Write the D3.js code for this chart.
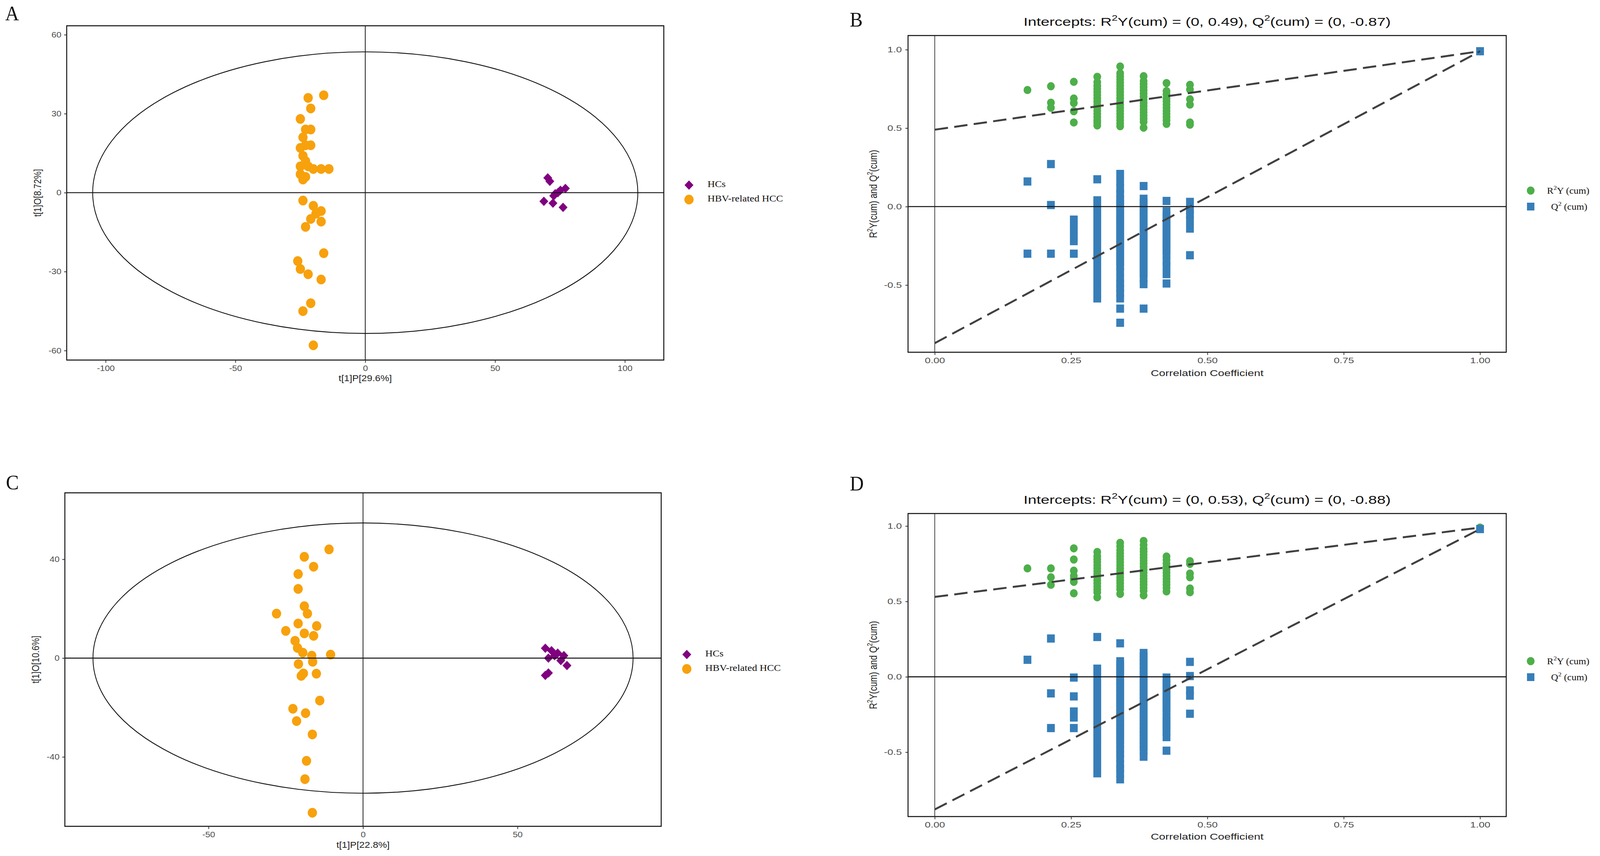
<!DOCTYPE html>
<html>
<head>
<meta charset="utf-8">
<script src="https://cdn.jsdelivr.net/npm/d3@7"></script>
<style>
  html, body { margin: 0; width: 100%; height: 100%; overflow: hidden; background: #fff; }
  svg { display: block; width: 100vw; height: 100vh; }
</style>
</head>
<body>
<svg id="fig" viewBox="0 0 4317 2192" preserveAspectRatio="none"></svg>
<script>
// ---- score plots (A, C) ----
const groups = ["HCs", "HBV-related HCC"];

const hcA = [[70.3, 5.6], [71.1, 4.3], [68.8, -3.3], [72.3, -4.0], [76.2, -5.6], [73.2, -0.4],
  [75.2, 0.9], [77.1, 1.6], [72.6, -1.2], [74.2, 0]];
const hccA = [[-22, 36], [-16, 37], [-21, 32], [-25, 28], [-23, 24], [-21, 24], [-24, 21], [-23, 18],
  [-21, 18], [-25, 17], [-24, 14], [-23, 12], [-25, 10], [-22, 10], [-20, 9], [-17, 9], [-14, 9],
  [-25, 7], [-23, 6], [-24, 5], [-24, -3], [-20, -5], [-17, -7], [-19, -8], [-21, -10], [-17, -11],
  [-23, -13], [-16, -23], [-26, -26], [-25, -29], [-22, -31], [-17, -33], [-21, -42], [-24, -45], [-20, -58]];

const hcC = [[59, 4], [61, 3], [63, 2], [65, 1], [60, 0], [64, -1], [66, -3], [60, -6], [59, -7], [62, 1]];
const hccC = [[-11, 44], [-19, 41], [-16, 37], [-21, 34], [-21, 28], [-19, 21], [-18, 18], [-28, 18],
  [-21, 14], [-15, 13], [-25, 11], [-19, 10], [-16, 9], [-22, 7], [-21.2, 4.1], [-19.5, 2.2], [-16.6, 1.0],
  [-10.5, 1.4], [-16.3, -1.5], [-20.9, -2.4], [-19.3, -6.2], [-20.0, -7.2], [-15.1, -6.3], [-14.0, -17.2],
  [-22.7, -20.5], [-18.6, -22.3], [-21.5, -25.5], [-16.4, -30.9], [-18.3, -41.6], [-18.8, -49], [-16.4, -62.6]];

const ellipseA = [105, 53.5];
const ellipseC = [87.4, 54.7];

// ---- permutation plots (B, D) ----
const corrSteps = [0.17, 0.213, 0.255, 0.298, 0.34, 0.383, 0.425, 0.468];

const r2B = [
  [0.743],
  [0.767, 0.662, 0.63],
  [0.795, 0.689, 0.66, 0.608, 0.536],
  [0.827, 0.793, 0.77, 0.75, 0.73, 0.71, 0.69, 0.67, 0.65, 0.63, 0.61, 0.59, 0.57, 0.55, 0.535, 0.517],
  [0.893, 0.85, 0.83, 0.81, 0.79, 0.77, 0.75, 0.73, 0.71, 0.69, 0.67, 0.65, 0.63, 0.61, 0.59, 0.57, 0.55, 0.53, 0.512],
  [0.831, 0.80, 0.78, 0.76, 0.74, 0.72, 0.70, 0.68, 0.66, 0.64, 0.62, 0.60, 0.58, 0.56, 0.54, 0.503],
  [0.787, 0.736, 0.715, 0.69, 0.67, 0.65, 0.63, 0.61, 0.59, 0.57, 0.55, 0.527],
  [0.776, 0.746, 0.684, 0.65, 0.536, 0.522],
];
const q2B = [
  [0.16, -0.30],
  [0.271, 0.01, -0.30],
  [-0.083, -0.12, -0.155, -0.19, -0.22, -0.30],
  [0.174, 0.04, 0.015, -0.01, -0.035, -0.06, -0.085, -0.11, -0.135, -0.16, -0.185, -0.21, -0.235, -0.26,
    -0.285, -0.31, -0.335, -0.36, -0.385, -0.41, -0.435, -0.455, -0.49, -0.515, -0.54, -0.565, -0.585],
  [0.208, 0.16, 0.115, 0.08, 0.045, 0.02, -0.005, -0.03, -0.055, -0.08, -0.105, -0.13, -0.155, -0.18, -0.205,
    -0.23, -0.255, -0.28, -0.305, -0.33, -0.355, -0.38, -0.415, -0.46, -0.49, -0.52, -0.55, -0.585, -0.65, -0.74],
  [0.131, 0.05, 0.025, 0.0, -0.025, -0.05, -0.075, -0.1, -0.125, -0.15, -0.175, -0.2, -0.225, -0.25, -0.275,
    -0.3, -0.325, -0.35, -0.375, -0.4, -0.425, -0.455, -0.494, -0.65],
  [0.036, -0.03, -0.055, -0.08, -0.105, -0.13, -0.155, -0.18, -0.205, -0.23, -0.255, -0.28, -0.305, -0.346,
    -0.38, -0.43, -0.49],
  [0.03, -0.02, -0.05, -0.09, -0.14, -0.31],
];
const originalB = [1, 0.99, 0.99];     // [x, R2Y, Q2]
const interceptsB = [0.49, -0.87];

const r2D = [
  [0.719],
  [0.719, 0.66, 0.61],
  [0.852, 0.778, 0.704, 0.67, 0.65, 0.63, 0.554],
  [0.828, 0.80, 0.78, 0.76, 0.74, 0.72, 0.70, 0.68, 0.66, 0.64, 0.62, 0.60, 0.58, 0.56, 0.527],
  [0.889, 0.865, 0.84, 0.82, 0.80, 0.78, 0.76, 0.74, 0.72, 0.70, 0.68, 0.66, 0.64, 0.62, 0.60, 0.58, 0.55],
  [0.901, 0.875, 0.85, 0.83, 0.81, 0.79, 0.77, 0.75, 0.73, 0.71, 0.69, 0.67, 0.65, 0.63, 0.61, 0.59, 0.57, 0.54],
  [0.798, 0.775, 0.75, 0.73, 0.71, 0.69, 0.67, 0.65, 0.63, 0.61, 0.59, 0.566],
  [0.767, 0.749, 0.685, 0.66, 0.586, 0.561],
];
const q2D = [
  [0.113],
  [0.254, -0.11, -0.34],
  [-0.005, -0.13, -0.23, -0.27, -0.34],
  [0.264, 0.054, 0.03, 0.005, -0.02, -0.045, -0.07, -0.095, -0.12, -0.145, -0.17, -0.195, -0.22, -0.245,
    -0.27, -0.295, -0.32, -0.345, -0.37, -0.395, -0.42, -0.445, -0.48, -0.515, -0.55, -0.58, -0.61, -0.64],
  [0.222, 0.103, 0.08, 0.055, 0.03, 0.005, -0.02, -0.045, -0.07, -0.095, -0.12, -0.145, -0.17, -0.195, -0.22,
    -0.245, -0.27, -0.295, -0.32, -0.345, -0.37, -0.395, -0.42, -0.45, -0.48, -0.51, -0.54, -0.58, -0.61, -0.64, -0.68],
  [0.158, 0.135, 0.11, 0.085, 0.06, 0.035, 0.01, -0.015, -0.04, -0.065, -0.09, -0.115, -0.14, -0.165, -0.19,
    -0.215, -0.24, -0.265, -0.29, -0.315, -0.34, -0.365, -0.39, -0.415, -0.44, -0.465, -0.49, -0.53],
  [-0.005, -0.03, -0.055, -0.08, -0.105, -0.13, -0.155, -0.18, -0.205, -0.23, -0.265, -0.29, -0.315, -0.34,
    -0.365, -0.4, -0.49],
  [0.099, 0.005, -0.09, -0.125, -0.245],
];
const originalD = [1, 0.99, 0.98];
const interceptsD = [0.53, -0.88];

const corrTicks = [0, 0.25, 0.5, 0.75, 1];
const permYTicks = [-0.5, 0, 0.5, 1];

const colors = { hc: "#800080", hcc: "#F7A10C", r2: "#4DAF4A", q2: "#377EB8" };
const sans = "Liberation Sans, Arial, sans-serif";
const serif = "Liberation Serif, Times New Roman, serif";

const svg = d3.select("#fig");

// text is a bit wider than usual in the source figure, so stretch it horizontally
function addText(g, x, y, o) {
  const tf = o.rotate
    ? `translate(${x},${y}) rotate(-90) scale(1,${o.sx})`
    : `translate(${x},${y}) scale(${o.sx},1)`;
  return g.append("text").attr("transform", tf)
    .attr("text-anchor", o.anchor || "start")
    .attr("dominant-baseline", o.baseline || "auto")
    .attr("font-family", o.font).attr("font-size", o.size).attr("fill", o.fill || "#111");
}

function richText(sel, parts, size) {
  let up = false;
  parts.forEach(([t, sup]) => {
    const ts = sel.append("tspan").text(t);
    if (sup && !up) { ts.attr("dy", -size * 0.42).attr("font-size", size * 0.68); up = true; }
    else if (!sup && up) { ts.attr("dy", size * 0.42); up = false; }
  });
}

function styleAxis(g, sx, size) {
  g.select(".domain").remove();
  g.selectAll(".tick line").attr("stroke", "#333").attr("stroke-width", 2);
  g.selectAll(".tick text").attr("fill", "#4d4d4d").attr("font-family", sans).attr("font-size", size)
    .attr("transform", `scale(${sx},1)`);
}

function diamond(g, cx, cy, s) {
  g.append("rect").attr("x", -s / 2).attr("y", -s / 2).attr("width", s).attr("height", s)
    .attr("transform", `translate(${cx},${cy}) rotate(45)`);
}

function scorePanel(o) {
  const g = svg.append("g");
  const sx = 1.2;
  const x = d3.scaleLinear().domain(o.xDomain).range([o.left, o.right]);
  const y = d3.scaleLinear().domain(o.yDomain).range([o.bottom, o.top]);

  g.append("ellipse")
    .attr("cx", x(0)).attr("cy", y(0))
    .attr("rx", x(o.ellipse[0]) - x(0)).attr("ry", y(0) - y(o.ellipse[1]))
    .attr("fill", "none").attr("stroke", "#111").attr("stroke-width", 2.2);

  g.append("g").attr("fill", colors.hcc).selectAll("circle").data(o.hcc).join("circle")
    .attr("cx", (d) => x(d[0])).attr("cy", (d) => y(d[1])).attr("r", 12.5);

  const hcG = g.append("g").attr("fill", colors.hc);
  o.hc.forEach((d) => diamond(hcG, x(d[0]), y(d[1]), 17));

  g.append("line").attr("x1", o.left).attr("x2", o.right).attr("y1", y(0)).attr("y2", y(0))
    .attr("stroke", "#111").attr("stroke-width", 2.4);
  g.append("line").attr("x1", x(0)).attr("x2", x(0)).attr("y1", o.top).attr("y2", o.bottom)
    .attr("stroke", "#111").attr("stroke-width", 2);

  g.append("rect").attr("x", o.left).attr("y", o.top)
    .attr("width", o.right - o.left).attr("height", o.bottom - o.top)
    .attr("fill", "none").attr("stroke", "#111").attr("stroke-width", 2.6);

  g.append("g").attr("transform", `translate(0,${o.bottom})`)
    .call(d3.axisBottom(x).tickValues(o.xTicks).tickSize(7).tickPadding(7).tickFormat((d) => String(d)))
    .call(styleAxis, sx, 20);
  g.append("g").attr("transform", `translate(${o.left},0)`)
    .call(d3.axisLeft(y).tickValues(o.yTicks).tickSize(7).tickPadding(5).tickFormat((d) => String(d)))
    .call(styleAxis, sx, 20);

  addText(g, (o.left + o.right) / 2, o.xTitleY,
    { sx, anchor: "middle", baseline: "middle", font: sans, size: 22, fill: "#222" }).text(o.xTitle);
  addText(g, o.yTitleX, (o.top + o.bottom) / 2,
    { sx, rotate: true, anchor: "middle", baseline: "middle", font: sans, size: 22, fill: "#222" }).text(o.yTitle);

  // legend
  const [lx, ly, gap] = o.legend;
  diamond(g.append("g").attr("fill", colors.hc), lx, ly, 17);
  g.append("circle").attr("cx", lx).attr("cy", ly + gap).attr("r", 12.5).attr("fill", colors.hcc);
  groups.forEach((name, i) => {
    addText(g, lx + 50, ly + i * gap, { sx, baseline: "middle", font: serif, size: 23 }).text(name);
  });
}

function permPanel(o) {
  const g = svg.append("g");
  const sx = 1.4;
  const x = d3.scaleLinear().domain([-0.049, 1.048]).range([o.left, o.right]);
  const y = d3.scaleLinear().domain(o.yDomain).range([o.bottom, o.top]);

  const r2Pts = o.r2.flatMap((col, i) => col.map((v) => [corrSteps[i], v])).concat([[o.orig[0], o.orig[1]]]);
  const q2Pts = o.q2.flatMap((col, i) => col.map((v) => [corrSteps[i], v])).concat([[o.orig[0], o.orig[2]]]);

  g.append("g").attr("fill", colors.r2).selectAll("circle").data(r2Pts).join("circle")
    .attr("cx", (d) => x(d[0])).attr("cy", (d) => y(d[1])).attr("r", 10.5);
  g.append("g").attr("fill", colors.q2).selectAll("rect").data(q2Pts).join("rect")
    .attr("x", (d) => x(d[0]) - 10.5).attr("y", (d) => y(d[1]) - 10.5).attr("width", 21).attr("height", 21);

  g.append("line").attr("x1", o.left).attr("x2", o.right).attr("y1", y(0)).attr("y2", y(0))
    .attr("stroke", "#111").attr("stroke-width", 2.6);
  g.append("line").attr("x1", x(0)).attr("x2", x(0)).attr("y1", o.top).attr("y2", o.bottom)
    .attr("stroke", "#111").attr("stroke-width", 1.6);

  [[o.intercepts[0], o.orig[1]], [o.intercepts[1], o.orig[2]]].forEach(([a, b]) => {
    g.append("line").attr("x1", x(0)).attr("y1", y(a)).attr("x2", x(o.orig[0])).attr("y2", y(b))
      .attr("stroke", "#404040").attr("stroke-width", 5).attr("stroke-dasharray", "36,17");
  });

  g.append("rect").attr("x", o.left).attr("y", o.top)
    .attr("width", o.right - o.left).attr("height", o.bottom - o.top)
    .attr("fill", "none").attr("stroke", "#111").attr("stroke-width", 2.6);

  g.append("g").attr("transform", `translate(0,${o.bottom})`)
    .call(d3.axisBottom(x).tickValues(corrTicks).tickSize(7).tickPadding(7).tickFormat((d) => d.toFixed(2)))
    .call(styleAxis, sx, 20);
  g.append("g").attr("transform", `translate(${o.left},0)`)
    .call(d3.axisLeft(y).tickValues(permYTicks).tickSize(7).tickPadding(5).tickFormat((d) => d.toFixed(1)))
    .call(styleAxis, sx, 20);

  const title = addText(g, (o.left + o.right) / 2, o.titleY,
    { sx, anchor: "middle", font: sans, size: 30 });
  richText(title, [["Intercepts: R"], ["2", true], [`Y(cum) = (0, ${o.intercepts[0].toFixed(2)}), Q`],
    ["2", true], [`(cum) = (0, ${o.intercepts[1].toFixed(2)})`]], 30);

  addText(g, (o.left + o.right) / 2, o.xTitleY,
    { sx, anchor: "middle", baseline: "middle", font: sans, size: 22, fill: "#222" }).text("Correlation Coefficient");
  const yt = addText(g, o.yTitleX, (o.top + o.bottom) / 2,
    { sx: 1.3, rotate: true, anchor: "middle", font: sans, size: 22, fill: "#222" });
  richText(yt, [["R"], ["2", true], ["Y(cum) and Q"], ["2", true], ["(cum)"]], 22);

  // legend
  const [lx, ly, gap] = o.legend;
  g.append("circle").attr("cx", lx).attr("cy", ly).attr("r", 10.5).attr("fill", colors.r2);
  g.append("rect").attr("x", lx - 10).attr("y", ly + gap - 10).attr("width", 20).attr("height", 20)
    .attr("fill", colors.q2);
  richText(addText(g, lx + 44, ly + 8, { sx: 1.15, font: serif, size: 23 }), [["R"], ["2", true], ["Y (cum)"]], 23);
  richText(addText(g, lx + 55, ly + gap + 8, { sx: 1.15, font: serif, size: 23 }), [["Q"], ["2", true], [" (cum)"]], 23);
}

scorePanel({
  left: 180, right: 1791, top: 66, bottom: 922,
  xDomain: [-115, 115], yDomain: [-63.6, 63.4],
  xTicks: [-100, -50, 0, 50, 100], yTicks: [-60, -30, 0, 30, 60],
  ellipse: ellipseA, hc: hcA, hcc: hccA,
  xTitle: "t[1]P[29.6%]", yTitle: "t[1]O[8.72%]", xTitleY: 970, yTitleX: 104,
  legend: [1859, 474, 37],
});
scorePanel({
  left: 175, right: 1784, top: 1262, bottom: 2116,
  xDomain: [-96.5, 96.5], yDomain: [-68.1, 66.9],
  xTicks: [-50, 0, 50], yTicks: [-40, 0, 40],
  ellipse: ellipseC, hc: hcC, hcc: hccC,
  xTitle: "t[1]P[22.8%]", yTitle: "t[1]O[10.6%]", xTitleY: 2165, yTitleX: 98,
  legend: [1853, 1676, 37],
});
permPanel({
  left: 2450, right: 4064, top: 91, bottom: 902, yDomain: [-0.928, 1.09],
  r2: r2B, q2: q2B, orig: originalB, intercepts: interceptsB,
  titleY: 66, xTitleY: 957, yTitleX: 2366, legend: [4130, 488, 41],
});
permPanel({
  left: 2450, right: 4064, top: 1315, bottom: 2091, yDomain: [-0.927, 1.083],
  r2: r2D, q2: q2D, orig: originalD, intercepts: interceptsD,
  titleY: 1290, xTitleY: 2144, yTitleX: 2366, legend: [4130, 1693, 41],
});

[["A", 14, 52], ["B", 2293, 68], ["C", 16, 1253], ["D", 2293, 1256]].forEach(([t, x, y]) => {
  svg.append("text").attr("x", x).attr("y", y)
    .attr("font-family", serif).attr("font-size", 52).attr("fill", "#111").text(t);
});
</script>
</body>
</html>
